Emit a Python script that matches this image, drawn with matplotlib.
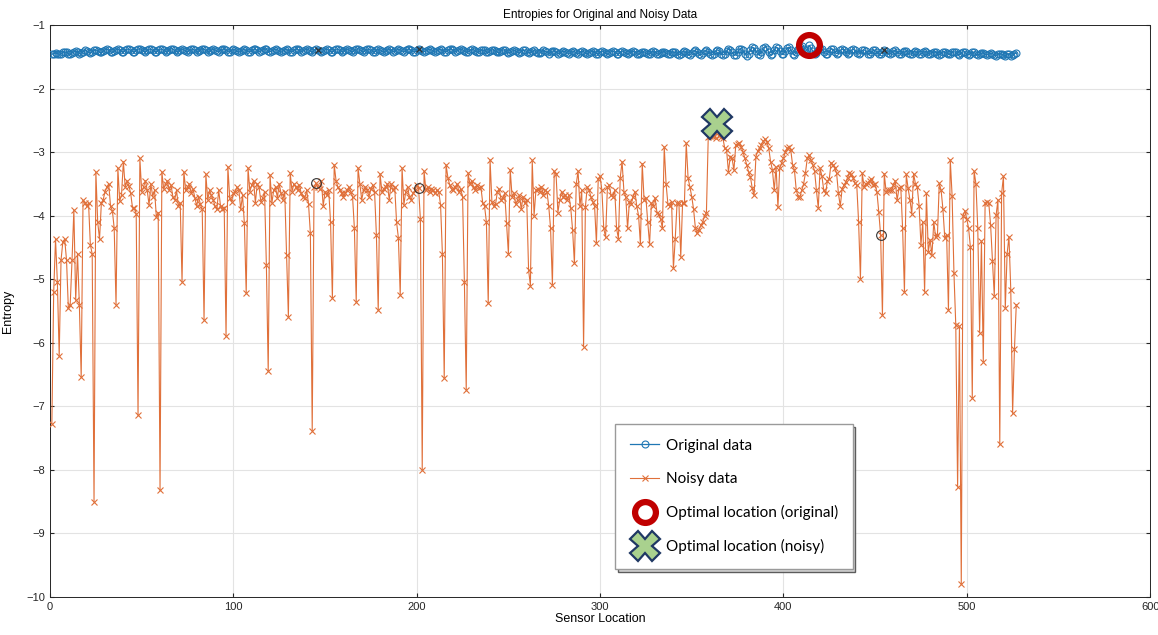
import numpy as np
import matplotlib
matplotlib.use("Agg")
import matplotlib.pyplot as plt

# entropy of the original data at each sensor location
original = [
    -1.46, -1.45, -1.44, -1.45, -1.46, -1.45, -1.43, -1.42, -1.43, -1.45,
    -1.46, -1.44, -1.42, -1.41, -1.43, -1.45, -1.44, -1.42, -1.40, -1.41,
    -1.43, -1.44, -1.42, -1.40, -1.39, -1.41, -1.43, -1.43, -1.41, -1.39,
    -1.38, -1.40, -1.42, -1.43, -1.41, -1.39, -1.38, -1.40, -1.42, -1.42,
    -1.40, -1.38, -1.38, -1.40, -1.42, -1.42, -1.40, -1.38, -1.37, -1.39,
    -1.41, -1.42, -1.40, -1.38, -1.38, -1.40, -1.42, -1.42, -1.40, -1.38,
    -1.38, -1.40, -1.42, -1.41, -1.39, -1.37, -1.38, -1.40, -1.42, -1.41,
    -1.39, -1.38, -1.39, -1.41, -1.42, -1.40, -1.38, -1.38, -1.40, -1.42,
    -1.41, -1.39, -1.37, -1.38, -1.40, -1.42, -1.41, -1.39, -1.38, -1.39,
    -1.41, -1.42, -1.40, -1.38, -1.38, -1.40, -1.42, -1.42, -1.40, -1.38,
    -1.39, -1.41, -1.43, -1.41, -1.39, -1.38, -1.40, -1.42, -1.42, -1.40,
    -1.38, -1.38, -1.40, -1.42, -1.41, -1.39, -1.37, -1.38, -1.41, -1.42,
    -1.41, -1.39, -1.38, -1.39, -1.41, -1.43, -1.41, -1.39, -1.38, -1.40,
    -1.42, -1.42, -1.40, -1.38, -1.38, -1.40, -1.42, -1.41, -1.39, -1.38,
    -1.39, -1.41, -1.42, -1.40, -1.38, -1.39, -1.41, -1.43, -1.41, -1.39,
    -1.38, -1.40, -1.42, -1.42, -1.40, -1.38, -1.38, -1.40, -1.42, -1.41,
    -1.39, -1.38, -1.39, -1.41, -1.42, -1.40, -1.38, -1.37, -1.39, -1.41,
    -1.42, -1.40, -1.38, -1.38, -1.40, -1.42, -1.42, -1.40, -1.38, -1.39,
    -1.41, -1.43, -1.41, -1.39, -1.38, -1.40, -1.42, -1.41, -1.39, -1.38,
    -1.39, -1.41, -1.42, -1.40, -1.38, -1.38, -1.40, -1.42, -1.42, -1.40,
    -1.38, -1.39, -1.41, -1.42, -1.41, -1.39, -1.38, -1.39, -1.41, -1.43,
    -1.41, -1.39, -1.38, -1.40, -1.42, -1.42, -1.40, -1.38, -1.38, -1.40,
    -1.42, -1.41, -1.39, -1.38, -1.39, -1.41, -1.43, -1.42, -1.40, -1.38,
    -1.39, -1.41, -1.43, -1.42, -1.40, -1.39, -1.40, -1.42, -1.43, -1.41,
    -1.39, -1.39, -1.41, -1.43, -1.43, -1.41, -1.39, -1.40, -1.42, -1.44,
    -1.43, -1.41, -1.40, -1.41, -1.43, -1.44, -1.42, -1.40, -1.40, -1.42,
    -1.44, -1.43, -1.41, -1.40, -1.42, -1.44, -1.44, -1.42, -1.40, -1.41,
    -1.43, -1.45, -1.43, -1.41, -1.41, -1.43, -1.45, -1.44, -1.42, -1.41,
    -1.42, -1.44, -1.45, -1.43, -1.41, -1.42, -1.44, -1.45, -1.43, -1.41,
    -1.42, -1.44, -1.45, -1.44, -1.42, -1.41, -1.43, -1.45, -1.45, -1.43,
    -1.41, -1.42, -1.44, -1.46, -1.44, -1.42, -1.41, -1.43, -1.45, -1.45,
    -1.43, -1.41, -1.42, -1.44, -1.46, -1.44, -1.42, -1.41, -1.43, -1.45,
    -1.46, -1.44, -1.42, -1.42, -1.44, -1.46, -1.45, -1.43, -1.41, -1.43,
    -1.45, -1.46, -1.44, -1.42, -1.42, -1.44, -1.46, -1.45, -1.43, -1.42,
    -1.43, -1.45, -1.47, -1.45, -1.42, -1.41, -1.43, -1.46, -1.47, -1.44,
    -1.41, -1.40, -1.43, -1.46, -1.47, -1.44, -1.41, -1.40, -1.42, -1.45,
    -1.47, -1.45, -1.41, -1.39, -1.41, -1.45, -1.47, -1.45, -1.41, -1.38,
    -1.39, -1.43, -1.47, -1.47, -1.43, -1.38, -1.37, -1.40, -1.45, -1.48,
    -1.45, -1.39, -1.35, -1.36, -1.41, -1.46, -1.47, -1.42, -1.36, -1.34,
    -1.37, -1.43, -1.47, -1.45, -1.39, -1.35, -1.36, -1.41, -1.46, -1.46,
    -1.41, -1.36, -1.35, -1.39, -1.45, -1.47, -1.43, -1.37, -1.34, -1.33,
    -1.37, -1.42, -1.38, -1.32, -1.36, -1.41, -1.45, -1.44, -1.40, -1.37,
    -1.38, -1.42, -1.46, -1.45, -1.41, -1.38, -1.38, -1.42, -1.45, -1.44,
    -1.40, -1.38, -1.39, -1.43, -1.46, -1.44, -1.40, -1.38, -1.40, -1.44,
    -1.46, -1.44, -1.40, -1.39, -1.41, -1.45, -1.46, -1.43, -1.40, -1.40,
    -1.43, -1.46, -1.45, -1.42, -1.40, -1.41, -1.44, -1.46, -1.44, -1.41,
    -1.40, -1.42, -1.45, -1.46, -1.43, -1.41, -1.41, -1.44, -1.46, -1.45,
    -1.42, -1.41, -1.43, -1.46, -1.46, -1.43, -1.41, -1.42, -1.45, -1.46,
    -1.44, -1.42, -1.42, -1.45, -1.47, -1.45, -1.42, -1.42, -1.44, -1.46,
    -1.46, -1.43, -1.42, -1.43, -1.46, -1.47, -1.44, -1.42, -1.43, -1.46,
    -1.47, -1.45, -1.43, -1.43, -1.46, -1.47, -1.46, -1.44, -1.44, -1.46,
    -1.47, -1.46, -1.44, -1.45, -1.47, -1.48, -1.46, -1.45, -1.46, -1.47,
    -1.48, -1.46, -1.45, -1.48, -1.47, -1.45, -1.44,
]

# entropy of the noisy data at each sensor location
noisy = [
    -7.27, -5.20, -4.37, -5.04, -6.20, -4.70, -4.41, -4.37, -4.70, -5.46,
    -5.40, -4.70, -3.91, -5.33, -4.60, -5.40, -6.54, -3.76, -3.80, -3.85,
    -3.80, -4.46, -4.60, -8.50, -3.31, -4.10, -4.37, -3.80, -3.75, -3.62,
    -3.55, -3.50, -3.85, -3.92, -4.20, -5.40, -3.25, -3.77, -3.67, -3.15,
    -3.55, -3.45, -3.53, -3.65, -3.88, -3.88, -3.97, -7.14, -3.10, -3.62,
    -3.55, -3.45, -3.60, -3.83, -3.50, -3.70, -3.60, -4.02, -3.95, -8.32,
    -3.31, -3.58, -3.50, -3.45, -3.60, -3.52, -3.70, -3.75, -3.60, -3.85,
    -3.80, -5.04, -3.31, -3.60, -3.55, -3.50, -3.65, -3.58, -3.72, -3.85,
    -3.70, -3.82, -3.90, -5.64, -3.35, -3.75, -3.60, -3.68, -3.75, -3.85,
    -3.90, -3.60, -3.85, -3.90, -3.88, -5.90, -3.23, -3.72, -3.78, -3.65,
    -3.62, -3.55, -3.60, -3.90, -3.68, -4.12, -5.22, -3.25, -3.62, -3.52,
    -3.45, -3.80, -3.50, -3.55, -3.78, -3.72, -3.62, -4.78, -6.45, -3.36,
    -3.80, -3.60, -3.55, -3.72, -3.50, -3.65, -3.75, -3.62, -4.62, -5.59,
    -3.33, -3.62, -3.50, -3.55, -3.60, -3.52, -3.65, -3.70, -3.72, -3.60,
    -3.82, -4.28, -7.38, -3.55, -3.49, -3.55, -3.58, -3.45, -3.85, -3.62,
    -3.68, -3.60, -4.10, -5.30, -3.20, -3.45, -3.55, -3.60, -3.65, -3.70,
    -3.65, -3.60, -3.55, -3.62, -3.70, -4.20, -5.36, -3.25, -3.50, -3.75,
    -3.60, -3.55, -3.60, -3.70, -3.58, -3.52, -3.62, -4.30, -5.49, -3.34,
    -3.62, -3.58, -3.55, -3.50, -3.75, -3.50, -3.60, -3.55, -4.10, -4.35,
    -5.25, -3.25, -3.83, -3.62, -3.55, -3.70, -3.75, -3.65, -3.60, -3.52,
    -3.57, -4.05, -8.00, -3.30, -3.60, -3.55, -3.62, -3.58, -3.60, -3.65,
    -3.60, -3.62, -3.83, -4.60, -6.56, -3.20, -3.40, -3.52, -3.58, -3.60,
    -3.55, -3.50, -3.62, -3.58, -3.70, -5.05, -6.74, -3.33, -3.50, -3.45,
    -3.55, -3.60, -3.52, -3.57, -3.55, -3.80, -3.85, -4.10, -5.38, -3.12,
    -3.78, -3.85, -3.82, -3.62, -3.58, -3.75, -3.72, -3.65, -4.12, -4.60,
    -3.28, -3.70, -3.65, -3.82, -3.75, -3.68, -3.90, -3.70, -3.80, -3.75,
    -4.85, -5.10, -3.13, -4.00, -3.60, -3.58, -3.62, -3.55, -3.68, -3.60,
    -3.62, -3.85, -4.20, -5.09, -3.30, -3.35, -3.95, -3.75, -3.62, -3.70,
    -3.68, -3.75, -3.68, -3.88, -4.22, -4.75, -3.50, -3.30, -3.85, -3.60,
    -6.06, -3.86, -3.55, -3.60, -3.70, -3.78, -3.85, -4.43, -3.42, -3.38,
    -3.60, -4.20, -4.34, -3.55, -3.52, -3.68, -3.70, -3.60, -4.20, -4.36,
    -3.40, -3.15, -3.62, -3.70, -4.20, -3.78, -3.82, -3.70, -3.62, -3.85,
    -4.00, -4.45, -3.18, -3.75, -3.72, -4.10, -4.45, -3.80, -3.85, -3.72,
    -3.95, -3.98, -4.05, -4.20, -2.92, -3.50, -3.82, -3.85, -3.78, -4.83,
    -4.36, -3.80, -3.80, -4.65, -3.80, -3.80, -2.86, -3.41, -3.55, -3.70,
    -3.90, -4.20, -4.28, -4.22, -4.15, -4.10, -4.00, -3.95, -2.76, -2.75,
    -2.75, -2.74, -2.78, -2.55, -2.74, -2.76, -2.78, -2.94, -2.97, -3.31,
    -3.07, -3.10, -3.28, -2.89, -2.87, -2.86, -2.92, -3.00, -3.10, -3.20,
    -3.31, -3.39, -3.57, -3.68, -3.07, -2.98, -2.94, -2.88, -2.83, -2.80,
    -2.84, -2.94, -3.15, -3.28, -3.60, -3.23, -3.87, -3.25, -3.17, -3.10,
    -3.00, -2.94, -2.92, -2.97, -3.20, -3.28, -3.60, -3.70, -3.70, -3.60,
    -3.50, -3.33, -3.10, -3.05, -3.12, -3.20, -3.30, -3.60, -3.88, -3.25,
    -3.38, -3.60, -3.65, -3.45, -3.42, -3.17, -3.20, -3.25, -3.33, -3.65,
    -3.85, -3.58, -3.52, -3.47, -3.40, -3.33, -3.35, -3.40, -3.49, -3.52,
    -4.10, -5.00, -3.33, -3.55, -3.50, -3.48, -3.45, -3.42, -3.52, -3.50,
    -3.63, -3.94, -4.30, -5.57, -3.34, -3.62, -3.60, -3.60, -3.60, -3.52,
    -3.45, -3.76, -3.57, -3.55, -4.20, -5.20, -3.35, -3.57, -3.75, -3.97,
    -3.34, -3.50, -3.55, -3.84, -4.46, -4.10, -5.20, -3.65, -4.57, -4.38,
    -4.62, -4.10, -4.33, -4.30, -3.49, -3.60, -3.90, -4.35, -4.30, -5.49,
    -3.12, -3.69, -4.90, -5.72, -8.27, -5.74, -9.80, -4.00, -3.92,
    -4.05, -4.20, -4.50, -6.87, -3.30, -3.50, -4.20, -5.84, -4.40, -6.30,
    -3.80, -3.78, -3.80, -4.15, -4.72, -5.26, -3.99, -3.75, -7.60,
    -3.65, -3.38, -5.46, -4.60, -4.33, -5.17, -7.11, -6.10, -5.40,
]

# optimal locations and the other marked locations
opt_orig_x, opt_orig_y = 414, -1.32
opt_noisy_x, opt_noisy_y = 364, -2.55
marked_orig_x = [146, 201, 455]
marked_noisy_x = [145, 201, 453]

x = np.arange(1, len(noisy) + 1)
x_orig = np.arange(1, len(original) + 1)
orig_arr = np.array(original)
noisy_arr = np.array(noisy)

plt.rcParams['font.family'] = ['Liberation Sans', 'DejaVu Sans']

fig = plt.figure(figsize=(11.58, 6.35), dpi=100)
ax = fig.add_axes([0.0432, 0.0598, 0.9500, 0.9008])

blue = '#1f77b4'
orange = '#E0703A'

ax.plot(x_orig, orig_arr, '-', color=blue, lw=0.9, marker='o', ms=5,
        mfc='none', mec=blue, mew=0.8, label='Original data', zorder=3)
ax.plot(x, noisy_arr, '-', color=orange, lw=0.8, marker='x', ms=4,
        mew=0.8, label='Noisy data', zorder=3)

# other marked locations
mo = np.array(marked_orig_x)
ax.plot(mo, orig_arr[mo - 1], 'x', color='#333333', ms=4, mew=0.9, zorder=4)
mn = np.array(marked_noisy_x)
ax.plot(mn, noisy_arr[mn - 1], 'o', mfc='none', mec='#333333', ms=7,
        mew=0.8, zorder=4)

ax.plot(opt_orig_x, opt_orig_y, 'o', mfc='none', mec='#C00000', ms=15,
        mew=4.5, label='Optimal location (original)', zorder=5)
ax.plot(opt_noisy_x, opt_noisy_y, 'X', mfc='#A9D18E', mec='#1F3864', ms=21,
        mew=1.6, label='Optimal location (noisy)', zorder=5)

ax.set_xlim(0, 600)
ax.set_ylim(-10, -1)
ax.set_xticks(np.arange(0, 601, 100))
ax.set_yticks(np.arange(-10, 0, 1))
ax.tick_params(labelsize=8, length=3, direction='in', colors='#262626',
               top=True, right=True)
ax.grid(True, color='#E3E3E3', lw=0.8)
ax.set_axisbelow(True)
for s in ax.spines.values():
    s.set_color('#262626')
    s.set_linewidth(0.7)

ax.set_title('Entropies for Original and Noisy Data', fontsize=8.5, pad=5)
ax.set_xlabel('Sensor Location', fontsize=9, labelpad=1)
ax.set_ylabel('Entropy', fontsize=9, labelpad=9)

leg = ax.legend(loc='upper left', bbox_to_anchor=(0.514, 0.302),
                prop={'family': 'Lato', 'size': 11}, frameon=True,
                fancybox=False, shadow={'fc': '#CFCFCF', 'alpha': 0.9},
                edgecolor='#9A9A9A', borderpad=0.95, labelspacing=1.25,
                handlelength=1.9, handletextpad=0.45, borderaxespad=0)
leg.get_frame().set_linewidth(1.0)

fig.savefig('out.png', dpi=100)
